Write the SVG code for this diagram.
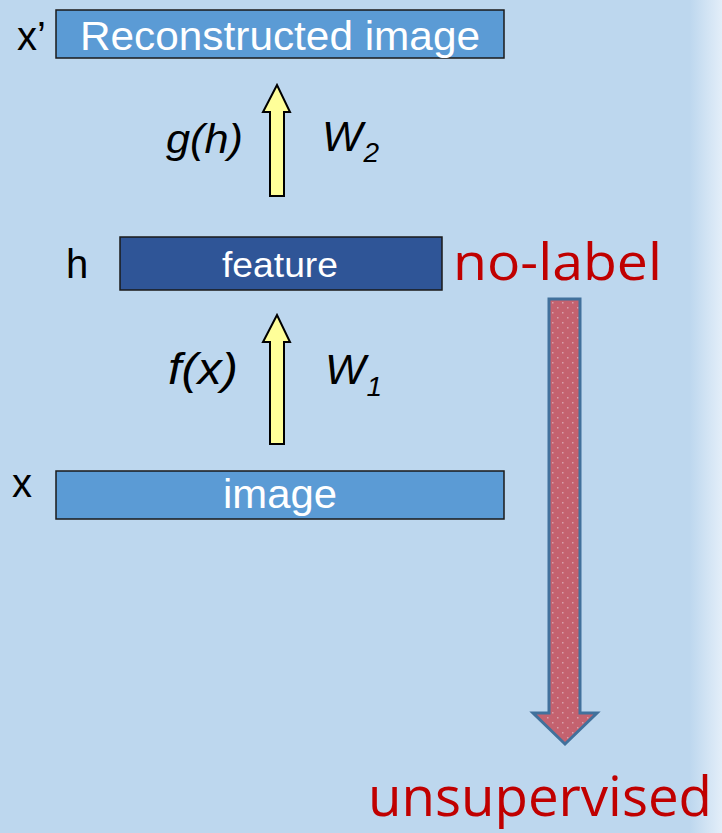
<svg xmlns="http://www.w3.org/2000/svg" width="722" height="833" viewBox="0 0 722 833">
  <defs>
    <linearGradient id="bg" x1="0" y1="0" x2="1" y2="0">
      <stop offset="0" stop-color="#BDD7EE"/>
      <stop offset="0.955" stop-color="#BDD7EE"/>
      <stop offset="1" stop-color="#E3EEF9"/>
    </linearGradient>
    <pattern id="dots" width="10" height="10" patternUnits="userSpaceOnUse">
      <rect width="10" height="10" fill="#C4626F"/>
      <rect x="2" y="2" width="1.5" height="1.5" fill="#D9A0AA"/>
      <rect x="7" y="7" width="1.5" height="1.5" fill="#D9A0AA"/>
    </pattern>
    <style>
      .box { stroke: #1a1a1a; stroke-width: 1.5; }
      .light { fill: #5B9BD5; }
      .dark { fill: #2F5597; }
      .boxtxt { font-family: "Liberation Sans", Arial, sans-serif; fill: #ffffff; }
      .lbl { font-family: "Liberation Sans", Arial, sans-serif; fill: #000000; }
      .it { font-style: italic; }
      .up { fill: #FFFF99; stroke: #000000; stroke-width: 2; }
      .red { font-family: "Open Sans", "Noto Sans", sans-serif; fill: #C00000; }
    </style>
  </defs>

  <rect width="722" height="833" fill="url(#bg)"/>

  <!-- reconstructed output layer -->
  <g id="node-output">
    <rect class="box light" x="56" y="10" width="448" height="48"/>
    <text class="boxtxt" x="80" y="50" font-size="41" textLength="400" lengthAdjust="spacingAndGlyphs">Reconstructed image</text>
    <text class="lbl" x="17" y="50" font-size="40">x’</text>
  </g>

  <!-- hidden feature layer -->
  <g id="node-feature">
    <rect class="box dark" x="120" y="237" width="322" height="53"/>
    <text class="boxtxt" x="222" y="277" font-size="35" textLength="116" lengthAdjust="spacingAndGlyphs">feature</text>
    <text class="lbl" x="66" y="278" font-size="40">h</text>
  </g>

  <!-- input layer -->
  <g id="node-input">
    <rect class="box light" x="56" y="471" width="448" height="48"/>
    <text class="boxtxt" x="223" y="508" font-size="41" textLength="114" lengthAdjust="spacingAndGlyphs">image</text>
    <text class="lbl" x="12" y="497" font-size="40">x</text>
  </g>

  <g id="node-nolabel">
    <text class="red" x="453" y="280" font-size="52" textLength="209" lengthAdjust="spacingAndGlyphs">no-label</text>
  </g>

  <g id="node-unsupervised">
    <text class="red" x="368" y="816" font-size="55" textLength="344" lengthAdjust="spacingAndGlyphs">unsupervised</text>
  </g>

  <!-- connectors -->
  <g id="connectors">
    <!-- encoder arrow f(x) -->
    <polygon class="up" points="270,444 284,444 284,342 290,342 277,315 263,342 270,342"/>
    <!-- decoder arrow g(h) -->
    <polygon class="up" points="270,196 284,196 284,112 290,112 277,85 263,112 270,112"/>
    <!-- downward block arrow -->
    <polygon points="549,299 580,299 580,713 597,713 565,744 533,713 549,713" fill="url(#dots)" stroke="#41719C" stroke-width="3" stroke-linejoin="miter"/>
  </g>

  <!-- arrow annotations -->
  <g id="labels">
    <text class="lbl it" x="166" y="153" font-size="41" textLength="77" lengthAdjust="spacingAndGlyphs">g(h)</text>
    <text class="lbl it" x="322" y="151" font-size="43">W<tspan font-size="28" dx="1" dy="11">2</tspan></text>
    <text class="lbl it" x="168" y="384" font-size="44" textLength="70" lengthAdjust="spacingAndGlyphs">f(x)</text>
    <text class="lbl it" x="325" y="384" font-size="43">W<tspan font-size="28" dx="1" dy="12">1</tspan></text>
  </g>
</svg>
